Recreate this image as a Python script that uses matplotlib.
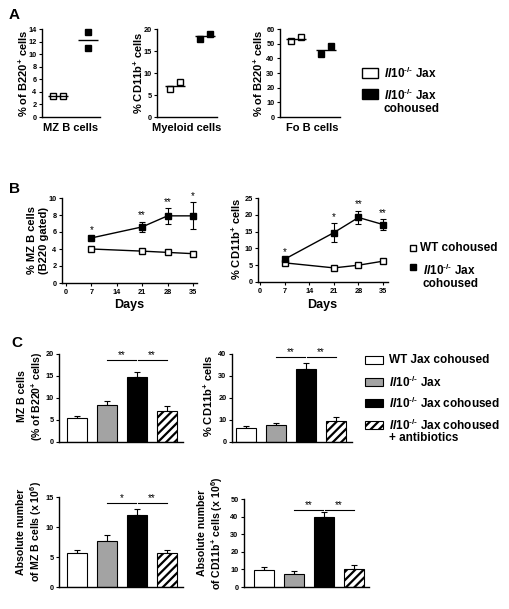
import numpy as np
import matplotlib
matplotlib.use('Agg')
import matplotlib.pyplot as plt
from matplotlib.patches import Rectangle

plt.rcParams['font.family'] = ['Liberation Sans', 'DejaVu Sans']
plt.rcParams['font.weight'] = 'bold'
plt.rcParams['mathtext.fontset'] = 'custom'
plt.rcParams['mathtext.rm'] = 'Liberation Sans:bold'
plt.rcParams['mathtext.bf'] = 'Liberation Sans:bold'
plt.rcParams['mathtext.it'] = 'Liberation Sans:italic:bold'
plt.rcParams['hatch.linewidth'] = 1.6

W, H = 509, 609
KO = '$\\it{Il10}^{\u2010/\u2010}$'

# panel A: two mice per group
a_xlabels = ['MZ B cells', 'Myeloid cells', 'Fo B cells']
a_ylabels = ['% of B220$^{+}$ cells', '% CD11b$^{+}$ cells', '% of B220$^{+}$ cells']
a_open = [[3.3, 3.4], [6.4, 7.9], [51.6, 54.3]]
a_filled = [[13.5, 11.0], [17.8, 18.9], [43.0, 48.2]]
a_ymax = [14, 20, 60]
a_ystep = [2, 5, 10]

# panel B: time course
days = [7, 21, 28, 35]
b_mz_wt = [4.0, 3.75, 3.6, 3.45]
b_mz_ko = [5.3, 6.6, 7.9, 7.9]
b_mz_err = [0.15, 0.6, 0.9, 1.6]
b_mz_sig = ['*', '**', '**', '*']
b_cd_wt = [5.7, 4.2, 5.0, 6.2]
b_cd_ko = [6.8, 14.7, 19.2, 17.1]
b_cd_err = [0.3, 2.8, 2.0, 1.6]
b_cd_sig = ['*', '*', '**', '**']

# panel C: bar groups
c_groups = ['WT Jax cohoused', KO + ' Jax', KO + ' Jax cohoused',
            KO + ' Jax cohoused\n+ antibiotics']
c_mz_pct = [5.4, 8.5, 14.7, 7.1]
c_mz_pct_err = [0.5, 0.9, 1.1, 1.0]
c_cd_pct = [6.3, 7.7, 33.2, 9.7]
c_cd_pct_err = [0.9, 1.1, 2.6, 1.6]
c_mz_abs = [5.6, 7.7, 12.0, 5.7]
c_mz_abs_err = [0.6, 1.0, 1.0, 0.5]
c_cd_abs = [9.8, 7.5, 39.6, 10.4]
c_cd_abs_err = [1.5, 1.5, 2.9, 1.9]
c_sig_h = [18.7, 38.5, 14.0, 43.8]
c_sig = [['**', '**'], ['**', '**'], ['*', '**'], ['**', '**']]

fig = plt.figure(figsize=(W / 100, H / 100), dpi=100)


def px_ax(left, right, top, bottom):
    return fig.add_axes([left / W, 1 - bottom / H, (right - left) / W, (bottom - top) / H])


def style(ax):
    for s in ['top', 'right']:
        ax.spines[s].set_visible(False)
    for s in ['left', 'bottom']:
        ax.spines[s].set_linewidth(1.0)
    ax.tick_params(direction='out', length=2.5, width=0.8, labelsize=5.3, pad=1.5)


# ---- A ----
a_boxes = [(42, 100), (157, 217), (280, 340)]
a_xlim = [(-0.53, 1.4), (-0.6, 1.4), (-0.53, 1.47)]
a_foff = [[0, 0], [-0.17, 0.17], [-0.17, 0.17]]
for i in range(3):
    ax = px_ax(a_boxes[i][0], a_boxes[i][1], 29, 117)
    style(ax)
    ax.plot([-0.17, 0.17], a_open[i], 's', ms=5, mfc='white', mec='black', mew=1, clip_on=False)
    ax.plot(np.array(a_foff[i]) + 1, a_filled[i], 's', ms=5, mfc='black', mec='black', clip_on=False)
    ax.hlines(np.mean(a_open[i]), -0.32, 0.32, color='black', lw=1)
    ax.hlines(np.mean(a_filled[i]), 0.67, 1.33, color='black', lw=1)
    ax.set_xlim(*a_xlim[i])
    ax.set_ylim(0, a_ymax[i])
    ax.set_yticks(np.arange(0, a_ymax[i] + 1, a_ystep[i]))
    ax.set_xticks([])

# ---- B ----
b_specs = [
    (62, 197, 198, 283, (-1.1, 36.1), 10, 2, b_mz_wt, b_mz_ko, b_mz_err, b_mz_sig),
    (258, 388, 198, 282, (-0.6, 36.4), 25, 5, b_cd_wt, b_cd_ko, b_cd_err, b_cd_sig),
]
for l, r, t, b, xl, ym, st, wt, ko, err, sig in b_specs:
    ax = px_ax(l, r, t, b)
    style(ax)
    ax.plot(days, wt, '-s', color='black', lw=1, ms=5, mfc='white', mec='black', mew=1, zorder=3)
    ax.errorbar(days, ko, yerr=err, fmt='-s', color='black', lw=1, ms=5, capsize=2.5,
                elinewidth=0.8, capthick=0.8, zorder=4)
    for d, v, e, s in zip(days, ko, err, sig):
        ax.annotate(s, (d, v + e), xytext=(0, 1), textcoords='offset points',
                    ha='center', va='bottom', fontsize=7, fontweight='normal')
    ax.set_xlim(*xl)
    ax.set_ylim(0, ym)
    ax.set_xticks([0, 7, 14, 21, 28, 35])
    ax.set_yticks(np.arange(0, ym + 1, st))

# ---- C ----
c_colors = ['white', '#a3a3a3', 'black', 'white']
c_specs = [
    (59, 183, 354, 442, (-0.6, 3.53), 20, 5, c_mz_pct, c_mz_pct_err),
    (232, 352, 354, 442, (-0.47, 3.53), 40, 10, c_cd_pct, c_cd_pct_err),
    (59, 183, 497, 587, (-0.6, 3.53), 15, 5, c_mz_abs, c_mz_abs_err),
    (244, 369, 499, 587, (-0.67, 3.5), 50, 10, c_cd_abs, c_cd_abs_err),
]
xpos = np.arange(4)
for k, (l, r, t, b, xl, ym, st, vals, err) in enumerate(c_specs):
    ax = px_ax(l, r, t, b)
    style(ax)
    ax.errorbar(xpos, vals, yerr=[np.zeros(4), err], fmt='none', ecolor='black',
                elinewidth=0.8, capsize=2.5, capthick=0.8, zorder=1)
    bars = ax.bar(xpos, vals, width=0.667, color=c_colors, edgecolor='black', linewidth=0.8, zorder=2)
    bars[3].set_hatch('////')
    h = c_sig_h[k]
    ax.plot([1, 1.96], [h, h], color='black', lw=0.8, clip_on=False)
    ax.plot([2.04, 3], [h, h], color='black', lw=0.8, clip_on=False)
    ax.text(1.5, h, c_sig[k][0], ha='center', va='bottom', fontsize=7, fontweight='normal')
    ax.text(2.5, h, c_sig[k][1], ha='center', va='bottom', fontsize=7, fontweight='normal')
    ax.set_xlim(*xl)
    ax.set_ylim(0, ym)
    ax.set_yticks(np.arange(0, ym + 1, st))
    ax.set_xticks([])

# ---- overlay for labels and legends ----
ov = fig.add_axes([0, 0, 1, 1])
ov.set_xlim(0, W)
ov.set_ylim(H, 0)
ov.axis('off')
ov.patch.set_visible(False)

for s, x, y in [('A', 14, 15), ('B', 15, 189), ('C', 17, 343)]:
    ov.text(x, y, s, fontsize=11, ha='center', va='center')

lab = dict(fontsize=8, ha='center', va='center')
for s, x in zip(a_xlabels, [71, 187, 312]):
    ov.text(x, 128, s, **lab)
for s, x in zip(a_ylabels, [23, 138, 258]):
    ov.text(x, 73, s, rotation=90, **lab)

ov.text(38, 240, '% MZ B cells\n(B220 gated)', rotation=90, multialignment='center', **lab)
ov.text(236, 239, '% CD11b$^{+}$ cells', rotation=90, **lab)
ov.text(129, 305, 'Days', fontsize=9, ha='center', va='center')
ov.text(322, 305, 'Days', fontsize=9, ha='center', va='center')

lab2 = dict(fontsize=7.6, ha='center', va='center', rotation=90, multialignment='center')
ov.text(31, 396, 'MZ B cells\n(% of B220$^{+}$ cells)', **lab2)
ov.text(208, 396, '% CD11b$^{+}$ cells', rotation=90, **lab)
ov.text(30, 532, 'Absolute number\nof MZ B cells (x 10$^{6}$)', **lab2)
ov.text(211, 533, 'Absolute number\nof CD11b$^{+}$ cells (x 10$^{6}$)', **lab2)

leg = dict(fontsize=8.5, ha='left', va='center')
# legend A
ov.add_patch(Rectangle((362, 68), 16, 10, fc='white', ec='black', lw=1))
ov.add_patch(Rectangle((362, 89), 16, 10, fc='black', ec='black', lw=1))
ov.text(384, 73, KO + ' Jax', **leg)
ov.text(384, 95, KO + ' Jax', **leg)
ov.text(384, 109, 'cohoused', **leg)

# legend B
ov.plot([413.5], [248], 's', ms=5, mfc='white', mec='black', mew=1)
ov.plot([413.5], [267], 's', ms=5, mfc='black', mec='black')
ov.text(420, 248, 'WT cohoused', **leg)
ov.text(423, 270, KO + ' Jax', **leg)
ov.text(423, 284, 'cohoused', **leg)

# legend C
for y, c, lbl in zip([360, 382, 403, 425], c_colors, c_groups):
    p = Rectangle((365, y - 4), 18, 8, fc=c, ec='black', lw=0.8)
    ov.add_patch(p)
    if lbl.endswith('antibiotics'):
        p.set_hatch('////')
        ov.text(389, y, lbl.split('\n')[0], **leg)
        ov.text(389, y + 13, lbl.split('\n')[1], **leg)
    else:
        ov.text(389, y, lbl, **leg)

fig.savefig('out.png', dpi=100)
